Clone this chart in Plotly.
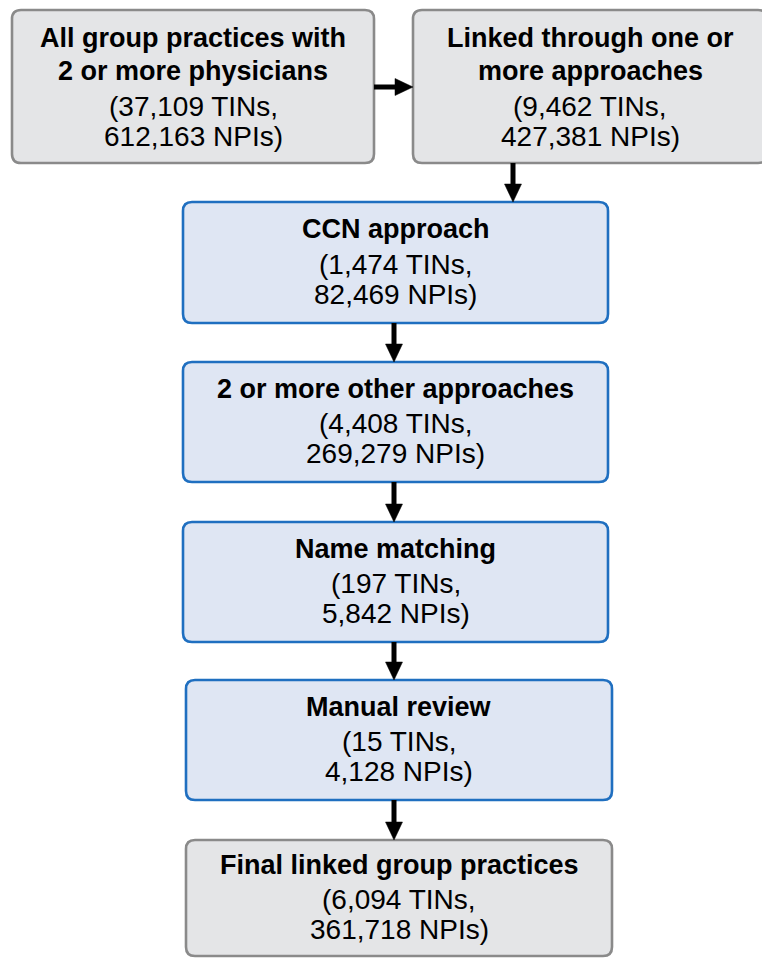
import plotly.graph_objects as go

# ---- data ----
titles = [
    ["All group practices with", "2 or more physicians"],
    ["Linked through one or", "more approaches"],
    ["CCN approach"],
    ["2 or more other approaches"],
    ["Name matching"],
    ["Manual review"],
    ["Final linked group practices"],
]
tins = ["37,109", "9,462", "1,474", "4,408", "197", "15", "6,094"]
npis = ["612,163", "427,381", "82,469", "269,279", "5,842", "4,128", "361,718"]
kinds = ["gray", "gray", "blue", "blue", "blue", "blue", "gray"]

# ---- layout (pixel space of the page) ----
W, H = 770, 958
PAD = 8  # default body margin of the html page
boxes = [
    (12, 374, 10, 163),
    (413, 767, 10, 163),
    (183, 608, 202, 323),
    (183, 608, 362, 482),
    (183, 608, 522, 642),
    (186, 612, 680, 800),
    (186, 612, 840, 956),
]
arrows = [  # (x0, y0, x1, y1)
    (374, 87, 413, 87),
    (513, 163, 513, 202),
    (394, 323, 394, 362),
    (394, 482, 394, 522),
    (394, 642, 394, 680),
    (394, 800, 394, 840),
]

styles = {
    "gray": dict(fill="#e4e5e7", line="#8a8a8a"),
    "blue": dict(fill="#dfe6f3", line="#1f6fc0"),
}


def rrect(x0, x1, y0, y1, r=9):
    return (f"M{x0+r},{y0} L{x1-r},{y0} Q{x1},{y0} {x1},{y0+r} "
            f"L{x1},{y1-r} Q{x1},{y1} {x1-r},{y1} L{x0+r},{y1} "
            f"Q{x0},{y1} {x0},{y1-r} L{x0},{y0+r} Q{x0},{y0} {x0+r},{y0} Z")


fig = go.Figure()
shapes = []
annotations = []
FONT = "Liberation Sans, Arial, sans-serif"
FS_BOLD = 27
FS_REG = 28

for i, (x0, x1, y0, y1) in enumerate(boxes):
    st = styles[kinds[i]]
    shapes.append(dict(type="path", path=rrect(x0, x1, y0, y1), xref="x", yref="y",
                       fillcolor=st["fill"], line=dict(color=st["line"], width=2.6),
                       layer="below"))
    cx = (x0 + x1) / 2
    cy = (y0 + y1) / 2
    lines = [(t, True) for t in titles[i]] + [(f"({tins[i]} TINs,", False),
                                               (f"{npis[i]} NPIs)", False)]
    if len(lines) == 4:
        offs = [-48.5, -15.5, 19.5, 49.8]
    else:
        offs = [-33.5, 1.5, 31.5]
    for (txt, bold), off in zip(lines, offs):
        annotations.append(dict(
            x=cx, y=cy + off, xref="x", yref="y", showarrow=False,
            text=f"<b>{txt}</b>" if bold else txt,
            font=dict(family=FONT, size=FS_BOLD if bold else FS_REG, color="#000000"),
            xanchor="center", yanchor="middle"))

HL, HW, LW = 18, 17, 5
for (x0, y0, x1, y1) in arrows:
    if y0 == y1:  # horizontal, pointing right
        bx = x1 - HL
        shapes.append(dict(type="line", x0=x0, y0=y0, x1=bx + 1, y1=y1, xref="x", yref="y",
                           line=dict(color="#000000", width=LW)))
        shapes.append(dict(type="path", xref="x", yref="y",
                           path=f"M{bx},{y1-HW/2} L{x1},{y1} L{bx},{y1+HW/2} Z",
                           fillcolor="#000000", line=dict(color="#000000", width=0.5)))
    else:  # vertical, pointing down
        by = y1 - HL
        shapes.append(dict(type="line", x0=x0, y0=y0, x1=x1, y1=by + 1, xref="x", yref="y",
                           line=dict(color="#000000", width=LW)))
        shapes.append(dict(type="path", xref="x", yref="y",
                           path=f"M{x1-HW/2},{by} L{x1},{y1} L{x1+HW/2},{by} Z",
                           fillcolor="#000000", line=dict(color="#000000", width=0.5)))

fig.update_layout(
    width=W - PAD, height=H - PAD,
    margin=dict(l=0, r=0, t=0, b=0),
    paper_bgcolor="white", plot_bgcolor="white",
    xaxis=dict(range=[PAD, W], visible=False, fixedrange=True),
    yaxis=dict(range=[H, PAD], visible=False, fixedrange=True),
    shapes=shapes, annotations=annotations,
    showlegend=False,
)
fig.write_html("out.html", config={"displayModeBar": False})
